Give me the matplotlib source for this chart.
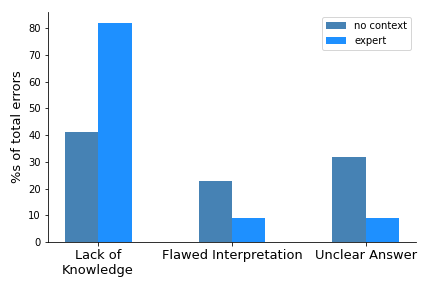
import numpy as np
import matplotlib
matplotlib.use('Agg')
from matplotlib import pyplot as plt

categories = ['Lack of\nKnowledge', 'Flawed Interpretation', 'Unclear Answer']
no_context = [41, 23, 32]
expert = [82, 9, 9]

x = np.arange(len(categories))
w = 0.25

fig, ax = plt.subplots(figsize=(6, 4), dpi=72)
ax.bar(x - w/2, no_context, w, color='steelblue', label='no context')
ax.bar(x + w/2, expert, w, color='dodgerblue', label='expert')
ax.set_xticks(x)
ax.set_xticklabels(categories, fontsize=13)
ax.set_ylabel('%s of total errors', fontsize=13)
ax.spines['top'].set_visible(False)
ax.spines['right'].set_visible(False)
ax.legend()
fig.subplots_adjust(left=0.111, right=0.963, bottom=0.16, top=0.958)
fig.savefig('out.png')
